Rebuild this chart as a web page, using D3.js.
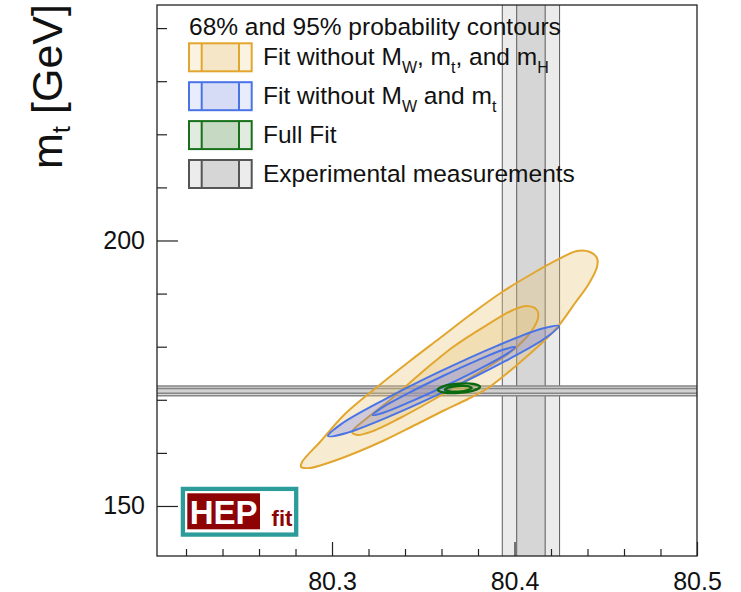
<!DOCTYPE html>
<html>
<head>
<meta charset="utf-8">
<script src="https://cdn.jsdelivr.net/npm/d3@7"></script>
<style>
  html, body { margin: 0; padding: 0; background: #ffffff; }
  svg { display: block; }
  text { font-family: "Liberation Sans", Arial, Helvetica, sans-serif; }
</style>
</head>
<body>
<svg id="chart" width="741" height="592"></svg>
<script>
// ---- axes ----
const xDomain = [80.2041, 80.5];           // M_W [GeV]
const yDomain = [140.58, 244.35];          // m_t [GeV]
const xMajorTicks = [80.3, 80.4, 80.5];
const xMinorTicks = [80.22, 80.24, 80.26, 80.28, 80.32, 80.34, 80.36, 80.38, 80.42, 80.44, 80.46, 80.48];
const yMajorTicks = [150, 200];
const yMinorTicks = [160, 170, 180, 190, 210, 220, 230, 240];

// ---- experimental measurements: [central, 68% half-width, 95% half-width] ----
const mwMeasurement = [80.409, 0.0078, 0.0157];
const mtMeasurement = [171.68, 0.45, 0.91];

// ---- probability contours, [M_W, m_t] ----
// Fit without M_W, m_t and m_H
const orange95 = [
  [80.2836, 158.29], [80.2934, 162.05], [80.3071, 167.33], [80.3247, 172.41],
  [80.3427, 177.31], [80.3592, 181.64], [80.3756, 185.97], [80.3932, 190.30],
  [80.4085, 193.50], [80.4244, 196.52], [80.4342, 198.02], [80.4414, 197.83],
  [80.4452, 196.70], [80.4452, 195.01], [80.4403, 191.62], [80.4332, 188.23],
  [80.4249, 184.27], [80.4167, 181.26], [80.4058, 177.87], [80.3948, 174.67],
  [80.3855, 172.22], [80.3745, 170.15], [80.3619, 168.08], [80.3455, 165.25],
  [80.3290, 162.43], [80.3126, 159.98], [80.2978, 158.10], [80.2879, 157.16],
  [80.2830, 157.35]
];
const orange68 = [
  [80.3110, 163.94], [80.3192, 166.57], [80.3318, 169.96], [80.3482, 174.86],
  [80.3663, 179.94], [80.3849, 184.09], [80.3992, 186.91], [80.4068, 187.66],
  [80.4123, 186.91], [80.4129, 185.40], [80.4101, 183.33], [80.4052, 181.26],
  [80.3986, 179.19], [80.3882, 176.74], [80.3740, 173.73], [80.3553, 169.96],
  [80.3373, 166.57], [80.3225, 164.12], [80.3137, 163.37]
];
// Fit without M_W and m_t
const blue95 = [
  [80.4244, 183.92], [80.4172, 181.68], [80.3948, 177.27], [80.3635, 171.85],
  [80.3315, 166.87], [80.3075, 163.71], [80.2978, 163.16], [80.3050, 165.41],
  [80.3274, 169.81], [80.3587, 175.24], [80.3907, 180.21], [80.4148, 183.37]
];
const blue68 = [
  [80.4004, 179.94], [80.3958, 178.64], [80.3820, 176.01], [80.3626, 172.69],
  [80.3428, 169.60], [80.3282, 167.57], [80.3223, 167.14], [80.3270, 168.44],
  [80.3408, 171.07], [80.3602, 174.39], [80.3799, 177.48], [80.3946, 179.51]
];
// Full fit
const green95 = [
  [80.3811, 172.45], [80.3778, 171.75], [80.3696, 171.30], [80.3614, 171.36],
  [80.3579, 171.88], [80.3612, 172.58], [80.3693, 173.03], [80.3775, 172.98]
];
const green68 = [
  [80.3765, 172.24], [80.3744, 171.83], [80.3693, 171.54], [80.3642, 171.58],
  [80.3619, 171.90], [80.3640, 172.32], [80.3690, 172.60], [80.3742, 172.56]
];

// ---- legend ----
const legendTitle = "68% and 95% probability contours";
const legendLabels = [
  [["Fit without M"], ["W", "sub"], [", m"], ["t", "sub"], [", and m"], ["H", "sub"]],
  [["Fit without M"], ["W", "sub"], [" and m"], ["t", "sub"]],
  [["Full Fit"]],
  [["Experimental measurements"]]
];
const legendStyles = [
  { stroke: "#e2a62e", outer: "#fbf3e2", inner: "#f4e6c6" },
  { stroke: "#4a74e6", outer: "#e9edfb", inner: "#d6dcf6" },
  { stroke: "#17701a", outer: "#e1ebdf", inner: "#c6d9c3" },
  { stroke: "#555555", outer: "#ececec", inner: "#d6d6d6" }
];

const svg = d3.select("#chart");
const plot = { left: 157, right: 697, top: 5, bottom: 556 };

const x = d3.scaleLinear().domain(xDomain).range([plot.left, plot.right]);
const y = d3.scaleLinear().domain(yDomain).range([plot.bottom, plot.top]);

svg.append("defs").append("clipPath").attr("id", "plotClip")
  .append("rect")
  .attr("x", plot.left).attr("y", plot.top)
  .attr("width", plot.right - plot.left).attr("height", plot.bottom - plot.top);

const area = svg.append("g").attr("clip-path", "url(#plotClip)");

// vertical band: M_W measurement
const [mw0, mw1, mw2] = mwMeasurement;
area.append("rect")
  .attr("x", x(mw0 - mw2)).attr("width", x(mw0 + mw2) - x(mw0 - mw2))
  .attr("y", plot.top).attr("height", plot.bottom - plot.top)
  .attr("fill", "#ebebeb");
area.append("rect")
  .attr("x", x(mw0 - mw1)).attr("width", x(mw0 + mw1) - x(mw0 - mw1))
  .attr("y", plot.top).attr("height", plot.bottom - plot.top)
  .attr("fill", "#d6d6d6");
area.selectAll("line.vband")
  .data([mw0 - mw2, mw0 - mw1, mw0 + mw1, mw0 + mw2])
  .join("line").attr("class", "vband")
  .attr("x1", d => x(d)).attr("x2", d => x(d))
  .attr("y1", plot.top).attr("y2", plot.bottom)
  .attr("stroke", "#5a5a5a").attr("stroke-width", 1);

// horizontal band: m_t measurement
const [mt0, mt1, mt2] = mtMeasurement;
area.append("rect")
  .attr("x", plot.left).attr("width", plot.right - plot.left)
  .attr("y", y(mt0 + mt2)).attr("height", y(mt0 - mt2) - y(mt0 + mt2))
  .attr("fill", "#dadada");
area.append("rect")
  .attr("x", plot.left).attr("width", plot.right - plot.left)
  .attr("y", y(mt0 + mt1)).attr("height", y(mt0 - mt1) - y(mt0 + mt1))
  .attr("fill", "#d2d2d2");
area.selectAll("line.hband")
  .data([mt0 - mt2, mt0 - mt1, mt0 + mt1, mt0 + mt2])
  .join("line").attr("class", "hband")
  .attr("x1", plot.left).attr("x2", plot.right)
  .attr("y1", d => y(d)).attr("y2", d => y(d))
  .attr("stroke", "#858585").attr("stroke-width", 1.5);

// contours
const contourLine = d3.line()
  .x(d => x(d[0])).y(d => y(d[1]))
  .curve(d3.curveCatmullRomClosed.alpha(0.5));

function drawContour(points, fill, fillOpacity, stroke, width) {
  area.append("path")
    .attr("d", contourLine(points))
    .attr("fill", fill).attr("fill-opacity", fillOpacity)
    .attr("stroke", stroke).attr("stroke-width", width)
    .attr("stroke-linejoin", "round");
}
drawContour(orange95, "#e8c77a", 0.35, "#e2a62e", 2);
drawContour(orange68, "#e8c77a", 0.35, "#e2a62e", 2);
drawContour(blue95, "#5a6ef0", 0.26, "#4a74e6", 2);
drawContour(blue68, "#5a6ef0", 0.12, "#4a74e6", 2);
drawContour(green95, "#2e7d32", 0.08, "#0b6a10", 2.4);
drawContour(green68, "#d9b84a", 0.45, "#0b6a10", 2.4);

// frame
svg.append("rect")
  .attr("x", plot.left).attr("y", plot.top)
  .attr("width", plot.right - plot.left).attr("height", plot.bottom - plot.top)
  .attr("fill", "none").attr("stroke", "#222").attr("stroke-width", 1.3);

// axes (ticks point into the frame)
const axisFont = 25;
const xMinorAxis = d3.axisBottom(x).tickValues(xMinorTicks).tickSize(-7).tickFormat("");
const xMajorAxis = d3.axisBottom(x).tickValues(xMajorTicks).tickSize(-14).tickPadding(16)
  .tickFormat(d3.format(".1f"));
const yMinorAxis = d3.axisLeft(y).tickValues(yMinorTicks).tickSize(-10).tickFormat("");
const yMajorAxis = d3.axisLeft(y).tickValues(yMajorTicks).tickSize(-21).tickPadding(12)
  .tickFormat(d3.format("d"));

function styleAxis(g) {
  g.select(".domain").remove();
  g.selectAll(".tick line").attr("stroke", "#222").attr("stroke-width", 1.2);
  g.selectAll(".tick text").attr("fill", "#111").attr("font-size", axisFont)
    .attr("font-family", "\"Liberation Sans\", Arial, Helvetica, sans-serif");
}
svg.append("g").attr("transform", `translate(0,${plot.bottom})`).call(xMinorAxis).call(styleAxis);
svg.append("g").attr("transform", `translate(0,${plot.bottom})`).call(xMajorAxis).call(styleAxis);
svg.append("g").attr("transform", `translate(${plot.left},0)`).call(yMinorAxis).call(styleAxis);
svg.append("g").attr("transform", `translate(${plot.left},0)`).call(yMajorAxis).call(styleAxis);

// y-axis title
const yTitle = svg.append("text")
  .attr("transform", "translate(62,4) rotate(-90)")
  .attr("text-anchor", "end")
  .attr("font-size", 43).attr("fill", "#111");
yTitle.append("tspan").text("m");
yTitle.append("tspan").attr("font-size", 26).attr("dy", 8).text("t");
yTitle.append("tspan").attr("dy", -8).text(" [GeV]");

// legend
const legend = svg.append("g");
legend.append("text")
  .attr("x", 189).attr("y", 35)
  .attr("font-size", 24.5).attr("fill", "#111")
  .text(legendTitle);

const boxX = 189, boxW = 62.7, boxH = 28, boxInset = 12.7, rowTop = 43.3, rowStep = 38.9;
legendLabels.forEach((segments, i) => {
  const st = legendStyles[i];
  const top = rowTop + i * rowStep;
  const row = legend.append("g");
  row.append("rect").attr("x", boxX).attr("y", top).attr("width", boxW).attr("height", boxH)
    .attr("fill", st.outer);
  row.append("rect").attr("x", boxX + boxInset).attr("y", top)
    .attr("width", boxW - 2 * boxInset).attr("height", boxH)
    .attr("fill", st.inner);
  [boxX + boxInset, boxX + boxW - boxInset].forEach(lx => {
    row.append("line").attr("x1", lx).attr("x2", lx).attr("y1", top).attr("y2", top + boxH)
      .attr("stroke", st.stroke).attr("stroke-width", 2);
  });
  row.append("rect").attr("x", boxX).attr("y", top).attr("width", boxW).attr("height", boxH)
    .attr("fill", "none").attr("stroke", st.stroke).attr("stroke-width", 2);

  const label = row.append("text")
    .attr("x", 263).attr("y", top + 21.7)
    .attr("font-size", 24.5).attr("fill", "#111");
  let shifted = 0;
  segments.forEach(([txt, kind]) => {
    const ts = label.append("tspan").text(txt);
    if (kind === "sub") {
      ts.attr("font-size", 16).attr("dy", 8 - shifted);
      shifted = 8;
    } else if (shifted) {
      ts.attr("dy", -shifted);
      shifted = 0;
    }
  });
});

// HEPfit logo
const logo = svg.append("g");
logo.append("rect")
  .attr("x", 182.9).attr("y", 488.9).attr("width", 113.3).attr("height", 45.7)
  .attr("fill", "#ffffff").attr("stroke", "#2b9c9a").attr("stroke-width", 4.3);
logo.append("rect")
  .attr("x", 187.3).attr("y", 493.3).attr("width", 72.7).attr("height", 36)
  .attr("fill", "#8e0303");
logo.append("text")
  .attr("x", 223.6).attr("y", 524).attr("text-anchor", "middle")
  .attr("font-size", 33).attr("font-weight", "bold").attr("fill", "#ffffff")
  .text("HEP");
logo.append("text")
  .attr("x", 282).attr("y", 526).attr("text-anchor", "middle")
  .attr("font-size", 22).attr("font-weight", "bold").attr("fill", "#8e0303")
  .text("fit");
</script>
</body>
</html>
